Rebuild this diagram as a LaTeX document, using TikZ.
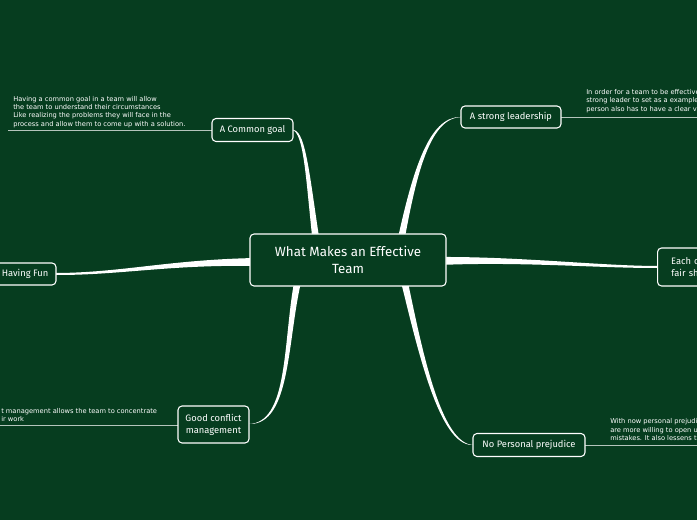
\documentclass[tikz,border=0pt]{standalone}
\usepackage{fontspec}
\setmainfont{Fira Sans}
\newfontfamily\notefont{DejaVu Sans}
\usetikzlibrary{calc}
\definecolor{bg}{HTML}{063D1F}
\newcommand\tbranch[5]{\fill[white] ($#1+#5$) .. controls ($#2+0.6*#5$) and ($#3+0.3*#5$) .. ($#4+0.25*#5$) -- ($#4-0.25*#5$) .. controls ($#3-0.3*#5$) and ($#2-0.6*#5$) .. ($#1-#5$) -- cycle;}
\tikzset{
 topic/.style={draw=white,line width=0.8pt,rounded corners=3pt,fill=bg,text=white,font=\fontsize{7}{9}\selectfont,align=center,inner sep=0pt},
 note/.style={text=white,font=\notefont\fontsize{5}{6.3}\selectfont,align=left,anchor=south west,inner sep=0pt},
 leafline/.style={draw=white!70!bg,line width=0.6pt}
}
\begin{document}
\begin{tikzpicture}[x=0.75pt,y=-0.75pt]
\path[fill=bg] (0,0) rectangle (697,520);
\clip (0,0) rectangle (697,520);
% leaf lines
\draw[leafline] (8,130) -- (212,130);
\draw[leafline] (561,117) -- (700,117);
\draw[leafline] (0,425) -- (178,425);
\draw[leafline] (585,445) -- (700,445);
% branches
\tbranch{(316,240)}{(308,180)}{(305,132)}{(293,130)}{(3.5,0)}
\tbranch{(401,240)}{(415,170)}{(430,117)}{(461,117)}{(3.5,0)}
\tbranch{(440,261)}{(520,259)}{(600,267)}{(657,267)}{(0,4)}
\tbranch{(256,262)}{(170,262)}{(120,274)}{(56,274)}{(0,4)}
\tbranch{(298,280)}{(285,340)}{(290,424)}{(249,424)}{(3.5,0)}
\tbranch{(404,280)}{(420,350)}{(440,445)}{(473,445)}{(3.5,0)}
% nodes
\node[topic,minimum width=196*0.75pt,minimum height=52*0.75pt,font=\fontsize{10}{13}\selectfont] (c) at (348,260) {What Makes an Effective\\Team};
\node[topic,minimum width=81*0.75pt,minimum height=23*0.75pt] (g) at (252.5,130) {A Common goal};
\node[topic,minimum width=100*0.75pt,minimum height=22*0.75pt] (l) at (511,117) {A strong leadership};
\node[topic,minimum width=60*0.75pt,minimum height=38*0.75pt,anchor=west,text width=50*0.75pt] (e) at (657,267) {Each co\\fair sha};
\node[topic,minimum width=62*0.75pt,minimum height=22*0.75pt] (f) at (25,274) {Having Fun};
\node[topic,minimum width=71*0.75pt,minimum height=37*0.75pt] (m) at (213.5,424.5) {Good conflict\\management};
\node[topic,minimum width=112*0.75pt,minimum height=23*0.75pt] (p) at (529,445) {No Personal prejudice};
% notes
\node[note] (ng) at (13,128) {Having a common goal in a team will allow\\the team to understand their circumstances\\Like realizing the problems they will face in the\\process and allow them to come up with a solution.};
\node[note] (nl) at (586,113) {In order for a team to be effective\\strong leader to set as a example\\person also has to have a clear vis};
\node[note] (nm) at (1,422) {t management allows the team to concentrate\\ir work};
\node[note] (np) at (610,441) {With now personal prejudi\\are more willing to open u\\mistakes. It also lessens th};
\end{tikzpicture}
\end{document}
